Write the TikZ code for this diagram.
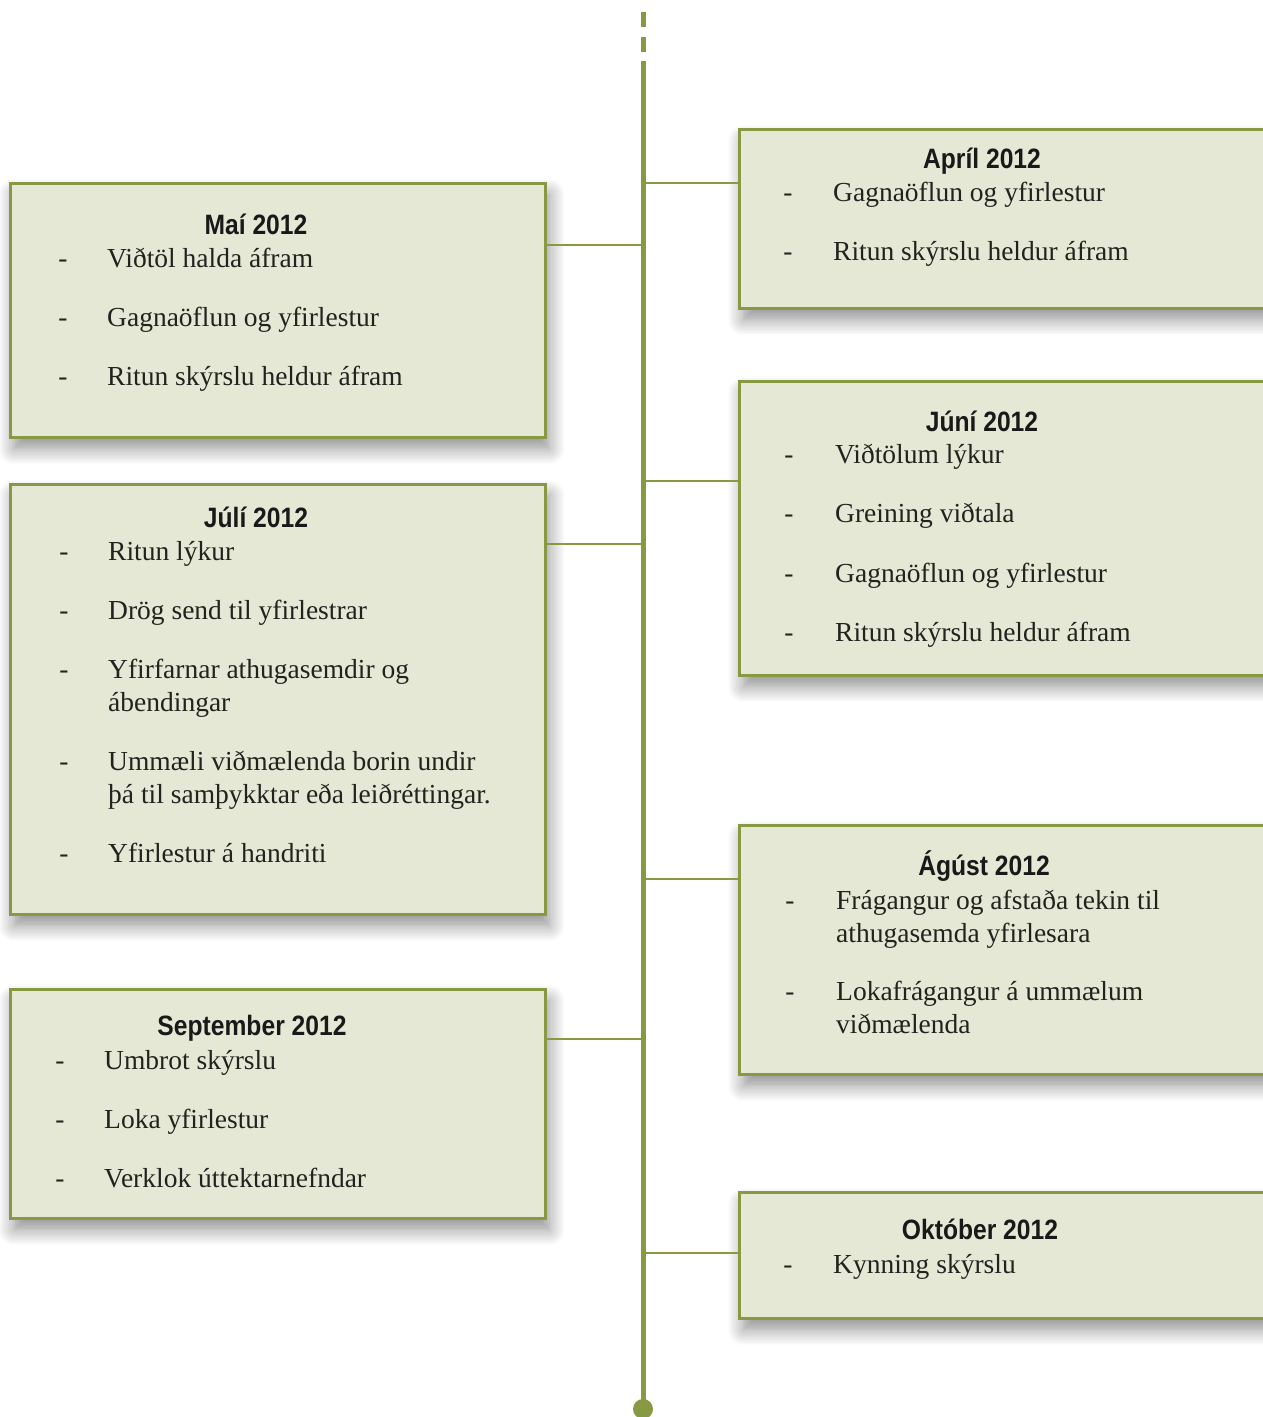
\documentclass[tikz,border=0pt]{standalone}
\usepackage{fontspec}
\setmainfont{Liberation Serif}
\newfontfamily\titlefont[FakeStretch=0.88]{Liberation Sans}
\usetikzlibrary{shadows.blur}
\definecolor{tlgreen}{RGB}{135,154,67}
\definecolor{tlfill}{RGB}{230,232,214}
\definecolor{tltext}{RGB}{34,34,30}
\tikzset{
  x=1pt, y=-1pt,
  box/.style={draw=tlgreen, line width=3.2pt, fill=tlfill, rectangle, inner sep=0pt,
    anchor=north west,
    blur shadow={shadow xshift=4pt, shadow yshift=-11pt, shadow blur radius=16pt, shadow blur steps=12, shadow opacity=45}},
  ttl/.style={anchor=base, inner sep=0pt, text=black!90,
    font=\titlefont\bfseries\fontsize{28}{32}\selectfont},
  item/.style={anchor=base west, inner sep=0pt, text=tltext,
    font=\fontsize{27.5}{33}\selectfont},
  dsh/.style={anchor=base, inner sep=0pt, text=tltext,
    font=\fontsize{27.5}{33}\selectfont},
  conn/.style={draw=tlgreen, line width=2.3pt},
  spine/.style={draw=tlgreen, line width=5pt},
}
\begin{document}
\begin{tikzpicture}
\useasboundingbox (0,0) rectangle (1262,1417);

% timeline
\coordinate (d1a) at (643,12); \coordinate (d1b) at (643,27);
\coordinate (d2a) at (643,37); \coordinate (d2b) at (643,52);
\coordinate (tltop) at (643,61);
\node[circle, fill=tlgreen, inner sep=0pt, minimum size=20pt] (tlend) at (643,1409) {};
\draw[spine] (d1a) -- (d1b);
\draw[spine] (d2a) -- (d2b);
\draw[spine] (tltop) -- (tlend.center);

% boxes
\node[box, minimum width=535pt, minimum height=254pt] (mai) at (8.5,182) {};
\node[box, minimum width=535pt, minimum height=430pt] (juli) at (8.5,483) {};
\node[box, minimum width=535pt, minimum height=229pt] (sept) at (8.5,988) {};
\node[box, minimum width=537pt, minimum height=179pt] (april) at (738,128) {};
\node[box, minimum width=537pt, minimum height=294pt] (juni) at (738,380) {};
\node[box, minimum width=537pt, minimum height=249pt] (agust) at (738,824) {};
\node[box, minimum width=537pt, minimum height=126pt] (okt) at (738,1191) {};

% connectors
\draw[conn] (mai.east |- 0,245) -- (tltop |- 0,245);
\draw[conn] (juli.east |- 0,544) -- (tltop |- 0,544);
\draw[conn] (sept.east |- 0,1039) -- (tltop |- 0,1039);
\draw[conn] (tltop |- 0,183) -- (april.west |- 0,183);
\draw[conn] (tltop |- 0,481) -- (juni.west |- 0,481);
\draw[conn] (tltop |- 0,879) -- (agust.west |- 0,879);
\draw[conn] (tltop |- 0,1253) -- (okt.west |- 0,1253);

% Maí
\node[ttl] (t1) at (256,234) {Maí 2012};
\node[dsh] (m1d) at (63,267) {-}; \node[item] (m1) at (107,267) {Viðtöl halda áfram};
\node[dsh] (m2d) at (63,326) {-}; \node[item] (m2) at (107,326) {Gagnaöflun og yfirlestur};
\node[dsh] (m3d) at (63,385) {-}; \node[item] (m3) at (107,385) {Ritun skýrslu heldur áfram};

% Júlí
\node[ttl] (t2) at (256,527) {Júlí 2012};
\node[dsh] (j1d) at (64,560) {-}; \node[item] (j1) at (108,560) {Ritun lýkur};
\node[dsh] (j2d) at (64,619) {-}; \node[item] (j2) at (108,619) {Drög send til yfirlestrar};
\node[dsh] (j3d) at (64,678) {-}; \node[item] (j3) at (108,678) {Yfirfarnar athugasemdir og};
\node[item] (j3b) at (108,711) {ábendingar};
\node[dsh] (j4d) at (64,770) {-}; \node[item] (j4) at (108,770) {Ummæli viðmælenda borin undir};
\node[item] (j4b) at (108,803) {þá til samþykktar eða leiðréttingar.};
\node[dsh] (j5d) at (64,862) {-}; \node[item] (j5) at (108,862) {Yfirlestur á handriti};

% September
\node[ttl] (t3) at (252,1035) {September 2012};
\node[dsh] (s1d) at (60,1069) {-}; \node[item] (s1) at (104,1069) {Umbrot skýrslu};
\node[dsh] (s2d) at (60,1128) {-}; \node[item] (s2) at (104,1128) {Loka yfirlestur};
\node[dsh] (s3d) at (60,1187) {-}; \node[item] (s3) at (104,1187) {Verklok úttektarnefndar};

% Apríl
\node[ttl] (t4) at (982,168) {Apríl 2012};
\node[dsh] (a1d) at (788,201) {-}; \node[item] (a1) at (833,201) {Gagnaöflun og yfirlestur};
\node[dsh] (a2d) at (788,260) {-}; \node[item] (a2) at (833,260) {Ritun skýrslu heldur áfram};

% Júní
\node[ttl] (t5) at (982,431) {Júní 2012};
\node[dsh] (u1d) at (789,463) {-}; \node[item] (u1) at (835,463) {Viðtölum lýkur};
\node[dsh] (u2d) at (789,522) {-}; \node[item] (u2) at (835,522) {Greining viðtala};
\node[dsh] (u3d) at (789,582) {-}; \node[item] (u3) at (835,582) {Gagnaöflun og yfirlestur};
\node[dsh] (u4d) at (789,641) {-}; \node[item] (u4) at (835,641) {Ritun skýrslu heldur áfram};

% Ágúst
\node[ttl] (t6) at (984,875) {Ágúst 2012};
\node[dsh] (g1d) at (790,909) {-}; \node[item] (g1) at (836,909) {Frágangur og afstaða tekin til};
\node[item] (g1b) at (836,942) {athugasemda yfirlesara};
\node[dsh] (g2d) at (790,1000) {-}; \node[item] (g2) at (836,1000) {Lokafrágangur á ummælum};
\node[item] (g2b) at (836,1033) {viðmælenda};

% Október
\node[ttl] (t7) at (980,1239) {Október 2012};
\node[dsh] (o1d) at (788,1273) {-}; \node[item] (o1) at (833,1273) {Kynning skýrslu};
\end{tikzpicture}
\end{document}
